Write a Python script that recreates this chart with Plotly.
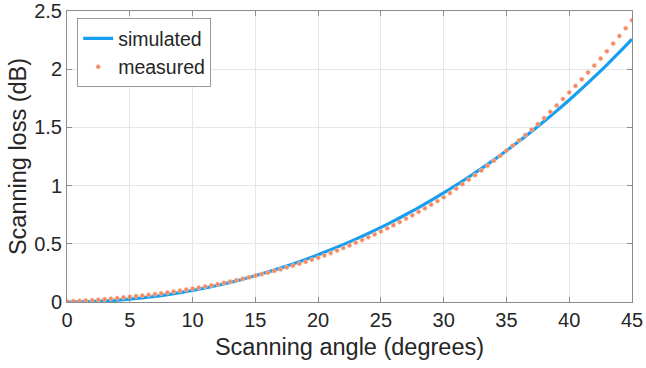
import plotly.graph_objects as go

# Simulated scanning loss (dB), every 1 degree from 0 to 45
sim_angle = list(range(0, 46))
sim_loss = [0.000, 0.001, 0.004, 0.009, 0.016, 0.025, 0.036, 0.049, 0.064, 0.081,
            0.100, 0.121, 0.144, 0.169, 0.196, 0.226, 0.257, 0.291, 0.327, 0.365,
            0.405, 0.448, 0.493, 0.540, 0.589, 0.641, 0.695, 0.752, 0.811, 0.873,
            0.937, 1.004, 1.074, 1.146, 1.221, 1.300, 1.381, 1.465, 1.552, 1.642,
            1.736, 1.833, 1.934, 2.038, 2.146, 2.258]

# Measured scanning loss (dB), every 0.5 degree from 0 to 45
meas_angle = [i * 0.5 for i in range(91)]
meas_loss = [0.005, 0.007, 0.009, 0.012, 0.015, 0.019, 0.023, 0.028, 0.033, 0.039,
             0.045, 0.050, 0.055, 0.061, 0.067, 0.074, 0.081, 0.089, 0.097, 0.106,
             0.115, 0.123, 0.133, 0.142, 0.153, 0.164, 0.175, 0.187, 0.199, 0.212,
             0.226, 0.239, 0.252, 0.267, 0.281, 0.297, 0.312, 0.329, 0.345, 0.363,
             0.380, 0.400, 0.421, 0.442, 0.464, 0.486, 0.509, 0.532, 0.556, 0.581,
             0.606, 0.633, 0.660, 0.687, 0.716, 0.745, 0.775, 0.805, 0.836, 0.868,
             0.900, 0.936, 0.974, 1.012, 1.051, 1.090, 1.130, 1.171, 1.213, 1.256,
             1.300, 1.344, 1.389, 1.434, 1.481, 1.528, 1.580, 1.634, 1.688, 1.744,
             1.800, 1.856, 1.913, 1.972, 2.031, 2.091, 2.154, 2.220, 2.285, 2.352,
             2.420]

x_ticks = [0, 5, 10, 15, 20, 25, 30, 35, 40, 45]
y_ticks = [0, 0.5, 1, 1.5, 2, 2.5]
y_tick_labels = ["0", "0.5", "1", "1.5", "2", "2.5"]

FONT = "Liberation Sans, Arial, sans-serif"

fig = go.Figure()
fig.add_trace(go.Scatter(x=sim_angle, y=sim_loss, mode="lines", name="simulated",
                         line=dict(color="#169ff0", width=3.2, shape="spline")))
fig.add_trace(go.Scatter(x=meas_angle, y=meas_loss, mode="markers", name="measured",
                         marker=dict(color="#f2875e", size=4.2, symbol="circle",
                                     line=dict(color="#f7b8a0", width=0.8))))

axis_common = dict(showgrid=True, gridcolor="#e6e6e6", gridwidth=1,
                   showline=True, linecolor="#8c8c8c", linewidth=1, mirror="ticks",
                   ticks="inside", ticklen=5, tickcolor="#8c8c8c", automargin=False,
                   ticklabeloverflow="allow",
                   zeroline=False, tickfont=dict(family=FONT, size=20, color="#262626"))

fig.update_layout(
    width=646, height=368,
    margin=dict(l=67, r=14, t=11, b=66),
    paper_bgcolor="white", plot_bgcolor="white",
    font=dict(family=FONT, color="#262626"),
    showlegend=True,
    legend=dict(x=0.018, y=0.975, xanchor="left", yanchor="top",
                bgcolor="white", bordercolor="#9a9a9a", borderwidth=1,
                font=dict(family=FONT, size=19.5, color="#262626"),
                itemwidth=30, tracegroupgap=0),
)
fig.update_xaxes(range=[0, 45.0001], tickvals=x_ticks,
                 title=dict(text="Scanning angle (degrees)", standoff=8,
                            font=dict(family=FONT, size=23.5, color="#262626")),
                 **axis_common)
fig.update_yaxes(range=[0, 2.5001], tickvals=y_ticks, ticktext=y_tick_labels,
                 title=dict(text="Scanning loss (dB)", standoff=0,
                            font=dict(family=FONT, size=23.5, color="#262626")),
                 **axis_common)

fig.write_html("out.html")
